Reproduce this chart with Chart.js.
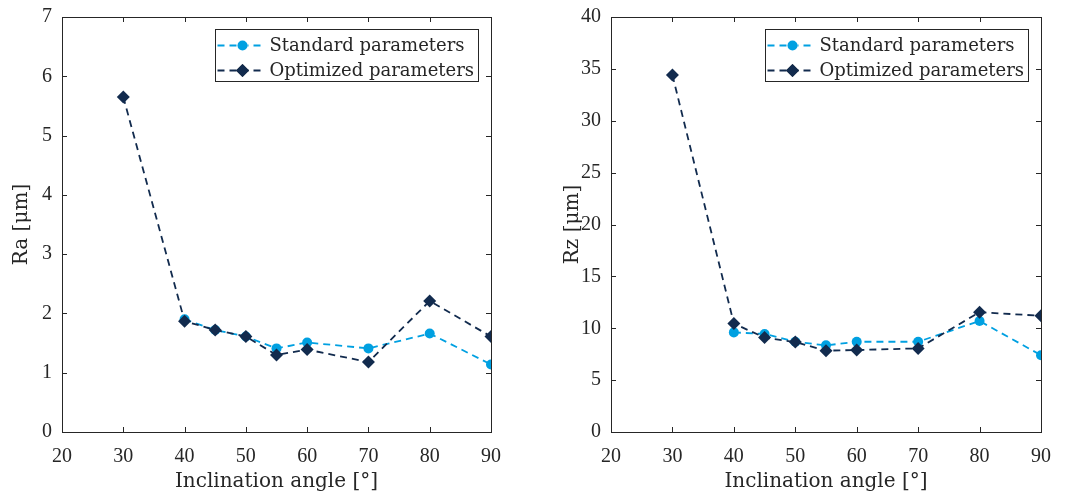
<!DOCTYPE html>
<html>
<head>
<meta charset="utf-8">
<script src="https://cdn.jsdelivr.net/npm/chart.js@4.4.0/dist/chart.umd.min.js"></script>
<style>
  body { margin: 0; background: #fff; }
  #wrap { position: relative; width: 1067px; height: 497px; }
  #c1 { position: absolute; left: 0; top: 0; }
  #c2 { position: absolute; left: 533px; top: 0; }
</style>
</head>
<body>
<div id="wrap">
  <canvas id="c1" width="533" height="497"></canvas>
  <canvas id="c2" width="534" height="497"></canvas>
</div>
<script>
// valores
var angles = [30, 40, 45, 50, 55, 60, 70, 80, 90];
var raStandard = [null, 1.90, 1.72, 1.61, 1.41, 1.51, 1.41, 1.66, 1.14];
var raOptimized = [5.65, 1.87, 1.72, 1.61, 1.30, 1.39, 1.18, 2.21, 1.61];
var rzStandard = [null, 9.6, 9.45, 8.7, 8.35, 8.7, 8.7, 10.7, 7.4];
var rzOptimized = [34.4, 10.45, 9.1, 8.67, 7.84, 7.9, 8.06, 11.55, 11.2];
var xTicks = [20, 30, 40, 50, 60, 70, 80, 90];
var seriesNames = ['Standard parameters', 'Optimized parameters'];

var lightBlue = 'rgb(0,160,225)';
var navy = 'rgb(18,43,78)';
var axisColor = '#262626';
var serif = '"DejaVu Serif", serif';
var tickSerif = '"Liberation Serif", serif';

function toPoints(vals) {
    var pts = [];
    for (var i = 0; i < angles.length; i++) {
        if (vals[i] !== null) pts.push({ x: angles[i], y: vals[i] });
    }
    return pts;
}

// caja, marcas interiores y leyenda al estilo MATLAB
var boxPlugin = {
    id: 'box',
    afterDatasetsDraw: function(chart) {
        var ctx = chart.ctx, a = chart.chartArea;
        var xs = chart.scales.x, ys = chart.scales.y;
        ctx.save();
        ctx.strokeStyle = axisColor;
        ctx.lineWidth = 1;
        ctx.setLineDash([]);
        ctx.beginPath();
        xs.ticks.forEach(function(t) {
            var px = Math.round(xs.getPixelForValue(t.value)) + 0.5;
            ctx.moveTo(px, a.bottom); ctx.lineTo(px, a.bottom - 5);
            ctx.moveTo(px, a.top); ctx.lineTo(px, a.top + 5);
        });
        ys.ticks.forEach(function(t) {
            var py = Math.round(ys.getPixelForValue(t.value)) + 0.5;
            ctx.moveTo(a.left, py); ctx.lineTo(a.left + 5, py);
            ctx.moveTo(a.right, py); ctx.lineTo(a.right - 5, py);
        });
        ctx.stroke();
        ctx.strokeRect(Math.round(a.left) + 0.5, Math.round(a.top) + 0.5,
            Math.round(a.right - a.left), Math.round(a.bottom - a.top));

        // leyenda
        ctx.font = '18px ' + serif;
        var tw = 0;
        seriesNames.forEach(function(n) { tw = Math.max(tw, ctx.measureText(n).width); });
        var w = Math.round(54 + tw + 4), h = 52;
        var bx = Math.round(a.right - 13 - w) + 0.5, by = Math.round(a.top + 12) + 0.5;
        ctx.fillStyle = '#fff';
        ctx.fillRect(bx, by, w, h);
        ctx.strokeStyle = axisColor;
        ctx.strokeRect(bx, by, w, h);
        [0, 1].forEach(function(k, row) {
            var ds = chart.data.datasets[k];
            var cy = by + 16 + row * 25;
            ctx.strokeStyle = ds.borderColor;
            ctx.lineWidth = ds.borderWidth;
            ctx.setLineDash(ds.borderDash);
            ctx.beginPath();
            ctx.moveTo(bx + 2, cy); ctx.lineTo(bx + 50, cy);
            ctx.stroke();
            ctx.setLineDash([]);
            Chart.helpers.drawPoint(ctx, {
                pointStyle: ds.pointStyle, radius: ds.pointRadius, rotation: 0, borderWidth: 0
            }, bx + 27, cy);
            ctx.fillStyle = ds.pointBackgroundColor;
            ctx.fill();
            ctx.fillStyle = axisColor;
            ctx.textBaseline = 'middle';
            ctx.textAlign = 'left';
            ctx.fillText(seriesNames[row], bx + 54, cy + 1);
        });
        ctx.restore();
    }
};

function makeChart(id, std, opt, yMax, yStep, yTitle, yWidth, titlePad, padRight) {
    var ctx = document.getElementById(id).getContext('2d');
    return new Chart(ctx, {
        type: 'line',
        data: {
            datasets: [{
                label: seriesNames[0],
                data: toPoints(std),
                borderColor: lightBlue,
                backgroundColor: lightBlue,
                pointBackgroundColor: lightBlue,
                pointBorderWidth: 0,
                pointStyle: 'circle',
                pointRadius: 5,
                borderWidth: 1.8,
                borderDash: [7, 5],
                order: 1
            }, {
                label: seriesNames[1],
                data: toPoints(opt),
                borderColor: navy,
                backgroundColor: navy,
                pointBackgroundColor: navy,
                pointBorderWidth: 0,
                pointStyle: 'rectRot',
                pointRadius: 6.5,
                borderWidth: 1.8,
                borderDash: [7, 5],
                order: 0
            }]
        },
        options: {
            responsive: false,
            animation: false,
            layout: { padding: { top: 17, right: padRight, bottom: 0, left: 0 } },
            plugins: { legend: { display: false }, tooltip: { enabled: false } },
            elements: { line: { tension: 0 } },
            scales: {
                x: {
                    type: 'linear',
                    min: 20, max: 90,
                    afterBuildTicks: function(s) { s.ticks = xTicks.map(function(v) { return { value: v }; }); },
                    afterFit: function(s) { s.height = 65; s.paddingLeft = 0; s.paddingRight = 0; },
                    grid: { display: false, drawTicks: false },
                    border: { display: false },
                    ticks: { color: axisColor, padding: 13, font: { family: tickSerif, size: 20 } },
                    title: {
                        display: true, text: 'Inclination angle [°]', color: axisColor,
                        font: { family: serif, size: 20 }, padding: { top: 0, bottom: 3 }
                    }
                },
                y: {
                    min: 0, max: yMax,
                    afterFit: function(s) { s.width = yWidth; s.paddingTop = 0; s.paddingBottom = 0; },
                    grid: { display: false, drawTicks: false },
                    border: { display: false },
                    ticks: { stepSize: yStep, color: axisColor, padding: 10, font: { family: tickSerif, size: 20 } },
                    title: {
                        display: true, text: yTitle, color: axisColor,
                        font: { family: serif, size: 20 }, padding: { top: titlePad, bottom: 0 }
                    }
                }
            }
        },
        plugins: [boxPlugin]
    });
}

makeChart('c1', raStandard, raOptimized, 7, 1, 'Ra [μm]', 62, 10, 42);
makeChart('c2', rzStandard, rzOptimized, 40, 5, 'Rz [μm]', 78, 28, 26);
</script>
</body>
</html>
